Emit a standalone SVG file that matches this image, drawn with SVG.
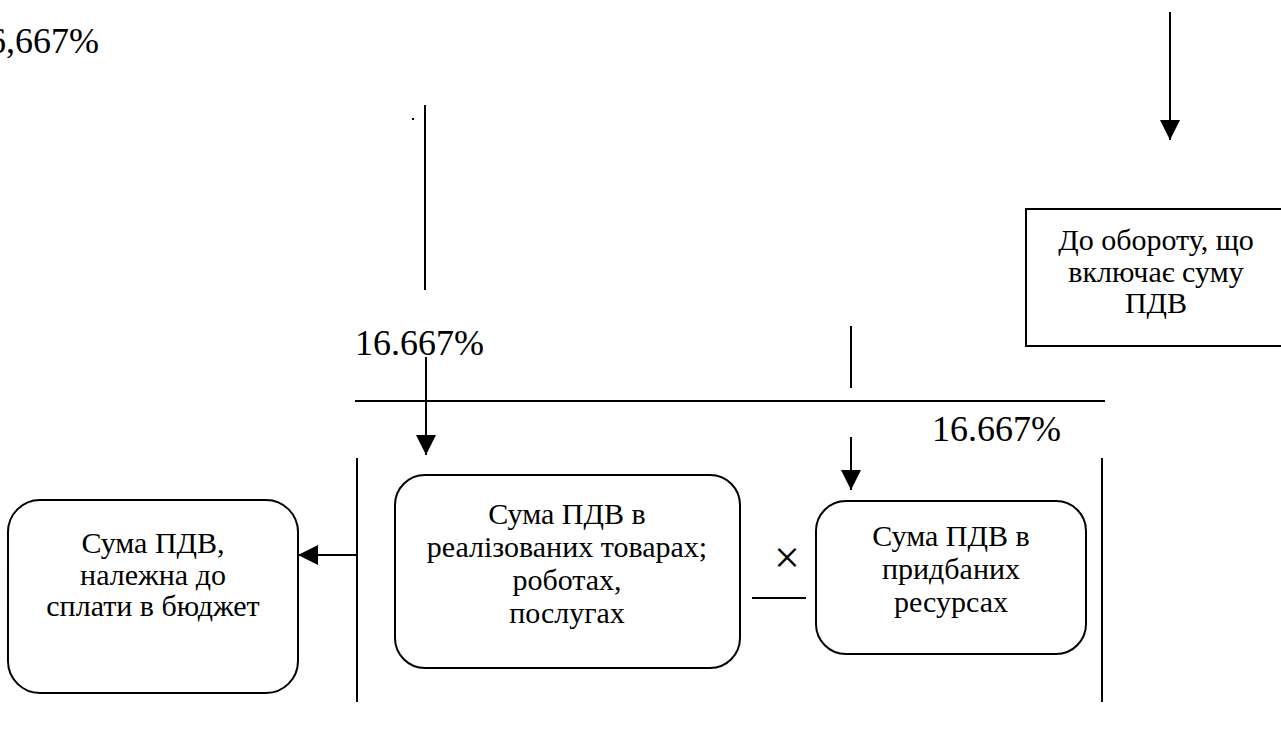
<svg xmlns="http://www.w3.org/2000/svg" width="1281" height="735" viewBox="0 0 1281 735">
<style>
.ln{stroke:#000;stroke-width:2;fill:none}
.bx{stroke:#000;stroke-width:2;fill:#fff}
.t{font-family:"Liberation Serif","Times New Roman",serif;font-size:30px;fill:#000;text-anchor:middle}
.p{font-family:"Liberation Serif","Times New Roman",serif;font-size:36px;fill:#000}
</style>
<defs>
<marker id="ah" viewBox="0 0 20 20" refX="20" refY="10" markerWidth="20" markerHeight="20" markerUnits="userSpaceOnUse" orient="auto">
<path d="M0,0 L20,10 L0,20 Z" fill="#000"/>
</marker>
</defs>
<rect width="1281" height="735" fill="#fff"/>
<g id="labels">
<text class="p" x="-30" y="53">16,667%</text>
<text class="p" x="355" y="355">16.667%</text>
<text class="p" x="932" y="441">16.667%</text>
<rect x="412" y="118" width="2" height="2" fill="#000"/>
</g>
<g id="connectors">
<line class="ln" x1="1170" y1="12" x2="1170" y2="140" marker-end="url(#ah)"/>
<line class="ln" x1="425" y1="105" x2="425" y2="290"/>
<line class="ln" x1="426" y1="357" x2="426" y2="455" marker-end="url(#ah)"/>
<line class="ln" x1="355" y1="401" x2="1105" y2="401"/>
<line class="ln" x1="851" y1="326" x2="851" y2="388"/>
<line class="ln" x1="851" y1="437" x2="851" y2="490" marker-end="url(#ah)"/>
<line class="ln" x1="357" y1="458" x2="357" y2="702"/>
<line class="ln" x1="1102" y1="458" x2="1102" y2="702"/>
<line class="ln" x1="357" y1="555" x2="298" y2="555" marker-end="url(#ah)"/>
<line class="ln" x1="752" y1="598" x2="806" y2="598"/>
<text class="t" x="787" y="573" style="font-size:46px">×</text>
</g>
<g id="box-turnover">
<rect class="bx" x="1026" y="209" width="262" height="137"/>
<text class="t" x="1156" y="250">До обороту, що</text>
<text class="t" x="1156" y="282">включає суму</text>
<text class="t" x="1156" y="313">ПДВ</text>
</g>
<g id="box-sold">
<rect class="bx" x="395" y="475" width="345" height="193" rx="30"/>
<text class="t" x="567" y="524">Сума ПДВ в</text>
<text class="t" x="567" y="557">реалізованих товарах;</text>
<text class="t" x="567" y="590">роботах,</text>
<text class="t" x="567" y="623">послугах</text>
</g>
<g id="box-bought">
<rect class="bx" x="816" y="501" width="270" height="153" rx="30"/>
<text class="t" x="951" y="546">Сума ПДВ в</text>
<text class="t" x="951" y="579">придбаних</text>
<text class="t" x="951" y="612">ресурсах</text>
</g>
<g id="box-budget">
<rect class="bx" x="8" y="500" width="290" height="193" rx="32"/>
<text class="t" x="153" y="553">Сума ПДВ,</text>
<text class="t" x="153" y="585">належна до</text>
<text class="t" x="153" y="616">сплати в бюджет</text>
</g>
</svg>
